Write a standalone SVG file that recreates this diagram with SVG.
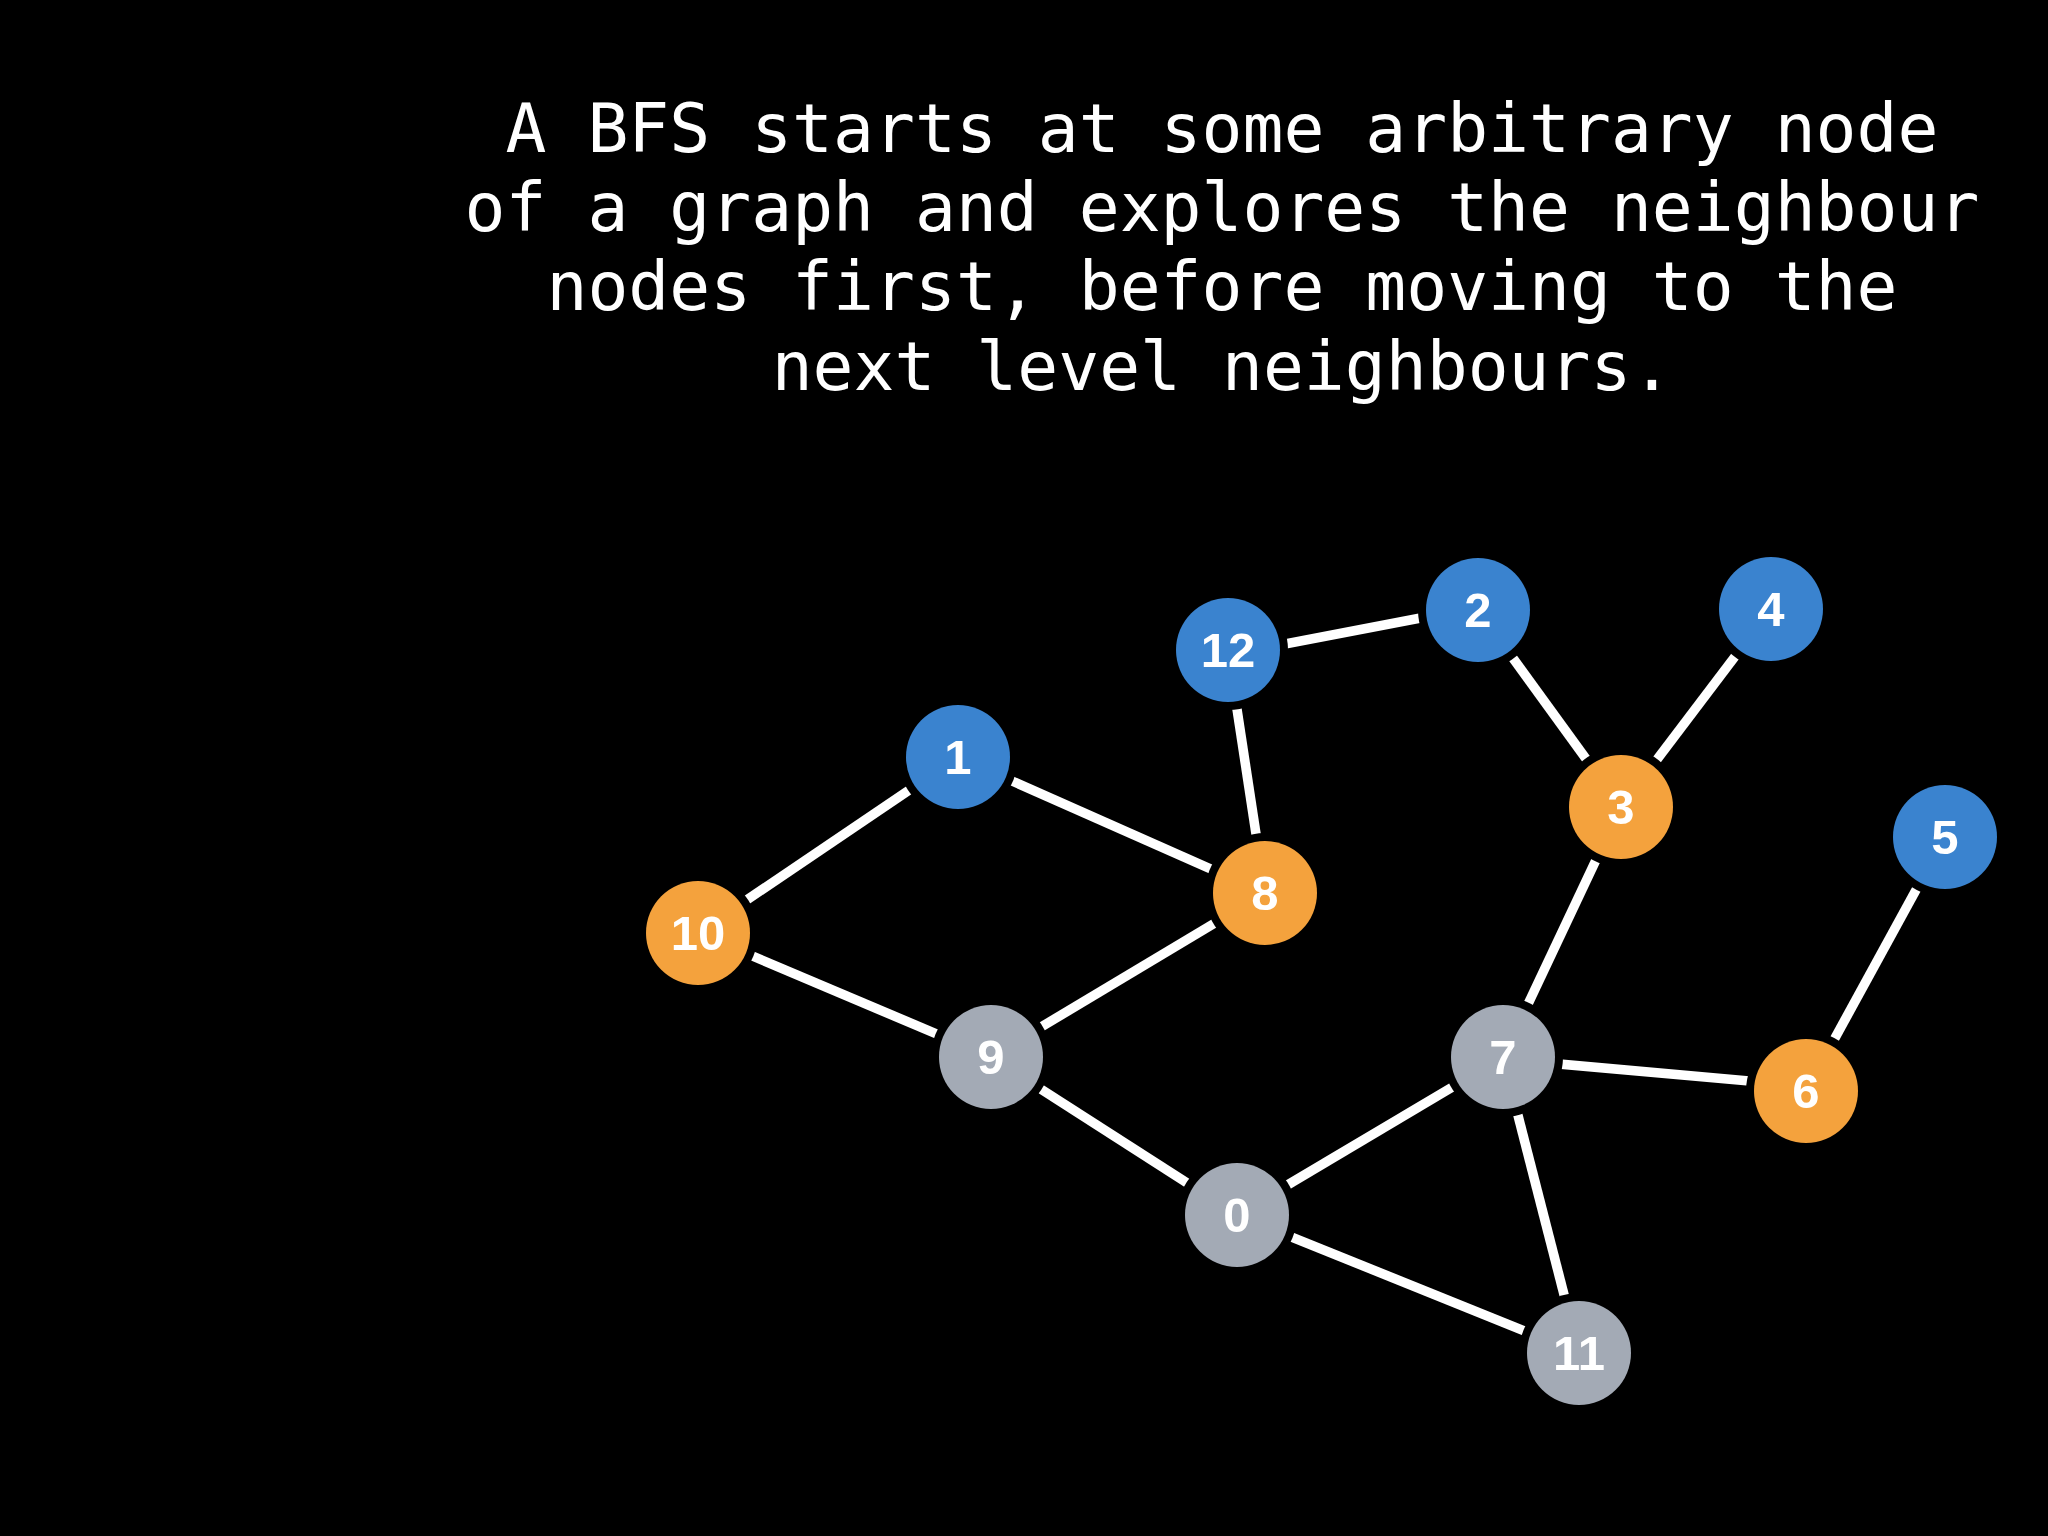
<svg xmlns="http://www.w3.org/2000/svg" width="2048" height="1536" viewBox="0 0 2048 1536">
<style>
.t{font-family:"DejaVu Sans Mono","Liberation Mono",monospace;font-size:68px;fill:#fff;text-anchor:middle}
.e{stroke:#fff;stroke-width:9.5;fill:none}
.h{fill:#000}
.b{fill:#3a83cf}
.o{fill:#f4a23d}
.g{fill:#a3aab5}
.l{font-family:"Liberation Sans",Arial,sans-serif;font-weight:bold;font-size:49px;fill:#fff;text-anchor:middle}
</style>
<rect width="2048" height="1536" fill="#000"/>
<g id="caption">
<text class="t" x="1222" y="152">A BFS starts at some arbitrary node</text>
<text class="t" x="1222" y="231">of a graph and explores the neighbour</text>
<text class="t" x="1222" y="310">nodes first, before moving to the</text>
<text class="t" x="1222" y="390">next level neighbours.</text>
</g>
<g id="edges" class="e">
<line x1="958" y1="757" x2="698" y2="933"/>
<line x1="958" y1="757" x2="1265" y2="893"/>
<line x1="1228" y1="655" x2="1478" y2="607"/>
<line x1="1228" y1="650" x2="1265" y2="893"/>
<line x1="1478" y1="610" x2="1621" y2="807"/>
<line x1="1771" y1="609" x2="1621" y2="807"/>
<line x1="1621" y1="807" x2="1503" y2="1057"/>
<line x1="1945" y1="837" x2="1806" y2="1091"/>
<line x1="698" y1="933" x2="991" y2="1057"/>
<line x1="991" y1="1057" x2="1265" y2="893"/>
<line x1="991" y1="1057" x2="1237" y2="1215"/>
<line x1="1503" y1="1057" x2="1237" y2="1215"/>
<line x1="1503" y1="1059" x2="1806" y2="1086"/>
<line x1="1503" y1="1057" x2="1579" y2="1353"/>
<line x1="1237" y1="1215" x2="1579" y2="1353"/>
</g>
<g id="node-12"><circle class="h" cx="1228" cy="650" r="60"/><circle class="b" cx="1228" cy="650" r="52"/><text class="l" x="1228" y="667">12</text></g>
<g id="node-2"><circle class="h" cx="1478" cy="610" r="60"/><circle class="b" cx="1478" cy="610" r="52"/><text class="l" x="1478" y="627">2</text></g>
<g id="node-4"><circle class="h" cx="1771" cy="609" r="60"/><circle class="b" cx="1771" cy="609" r="52"/><text class="l" x="1771" y="626">4</text></g>
<g id="node-1"><circle class="h" cx="958" cy="757" r="60"/><circle class="b" cx="958" cy="757" r="52"/><text class="l" x="958" y="774">1</text></g>
<g id="node-3"><circle class="h" cx="1621" cy="807" r="60"/><circle class="o" cx="1621" cy="807" r="52"/><text class="l" x="1621" y="824">3</text></g>
<g id="node-5"><circle class="h" cx="1945" cy="837" r="60"/><circle class="b" cx="1945" cy="837" r="52"/><text class="l" x="1945" y="854">5</text></g>
<g id="node-8"><circle class="h" cx="1265" cy="893" r="60"/><circle class="o" cx="1265" cy="893" r="52"/><text class="l" x="1265" y="910">8</text></g>
<g id="node-10"><circle class="h" cx="698" cy="933" r="60"/><circle class="o" cx="698" cy="933" r="52"/><text class="l" x="698" y="950">10</text></g>
<g id="node-9"><circle class="h" cx="991" cy="1057" r="60"/><circle class="g" cx="991" cy="1057" r="52"/><text class="l" x="991" y="1074">9</text></g>
<g id="node-7"><circle class="h" cx="1503" cy="1057" r="60"/><circle class="g" cx="1503" cy="1057" r="52"/><text class="l" x="1503" y="1074">7</text></g>
<g id="node-6"><circle class="h" cx="1806" cy="1091" r="60"/><circle class="o" cx="1806" cy="1091" r="52"/><text class="l" x="1806" y="1108">6</text></g>
<g id="node-0"><circle class="h" cx="1237" cy="1215" r="60"/><circle class="g" cx="1237" cy="1215" r="52"/><text class="l" x="1237" y="1232">0</text></g>
<g id="node-11"><circle class="h" cx="1579" cy="1353" r="60"/><circle class="g" cx="1579" cy="1353" r="52"/><text class="l" x="1579" y="1370">11</text></g>
</svg>
